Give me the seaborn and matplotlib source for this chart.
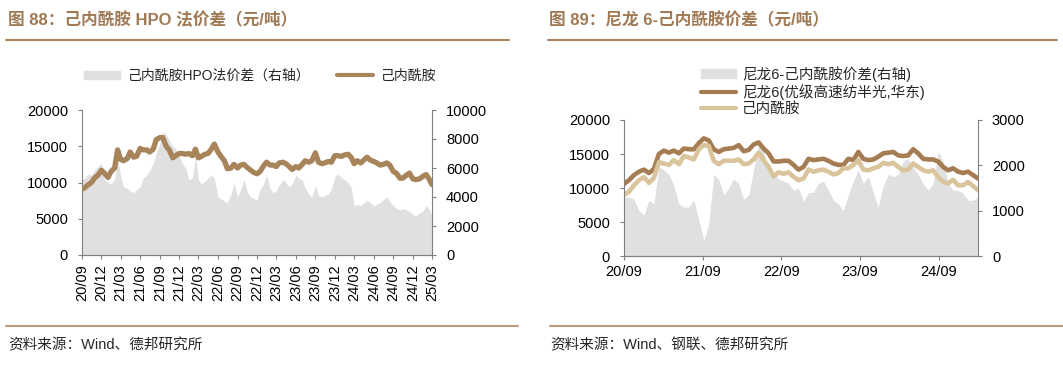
import numpy as np
import pandas as pd
import matplotlib
matplotlib.use("Agg")
import matplotlib.pyplot as plt
import matplotlib.dates as mdates
from matplotlib.lines import Line2D
from matplotlib.patches import Patch
import seaborn as sns

# ---- data: figure 88 (semi-monthly, 2020-09 .. 2025-03)
dates88 = pd.date_range("2020-09-01", periods=109, freq="SMS")
caprolactam88 = [
    9100, 9300, 9700, 10000, 10700, 11000, 11700, 11300, 10700, 11500,
    12000, 14500, 13200, 13000, 13300, 14200, 13500, 13600, 14700, 14500,
    14500, 14200, 14600, 15900, 16200, 16200, 15000, 14500, 13400, 13700,
    14000, 14000, 13900, 14000, 13700, 14600, 13400, 13600, 13900, 14000,
    14600, 15300, 14200, 13600, 13000, 11900, 12000, 12500, 12000, 12400,
    12500, 12100, 11700, 11400, 11200, 11500, 12300, 12800, 12400, 12400,
    12200, 12700, 12800, 12600, 12200, 11800, 12200, 12000, 12500, 13000,
    12800, 13000, 14100, 12800, 12600, 12700, 12900, 12800, 13700, 13700,
    13600, 13800, 13900, 13500, 12600, 13000, 12700, 13100, 13500, 13100,
    12900, 12700, 12400, 12500, 12700, 12400, 11500, 11300, 10600, 10600,
    11000, 11300, 10500, 10400, 10500, 10800, 11100, 10500, 9700,
]
hpo_spread88 = [
    5200, 5300, 5600, 5500, 5900, 6100, 6300, 5200, 5000, 4900,
    5200, 6600, 5500, 4700, 4600, 4400, 4300, 4500, 4700, 5300,
    5500, 5800, 6300, 7000, 7700, 8500, 8300, 7900, 7500, 7300,
    6900, 6300, 6000, 5200, 5300, 6900, 5200, 4900, 5100, 5300,
    5500, 5300, 4000, 3900, 3700, 3600, 4200, 5000, 4000, 4500,
    5200, 4400, 4000, 3900, 3800, 4500, 4900, 5500, 4600, 4300,
    4400, 4800, 5200, 5000, 4700, 4900, 5500, 5300, 5200, 4600,
    4200, 4000, 4800, 4100, 4000, 4100, 4200, 4500, 5400, 5600,
    5300, 5200, 5000, 4700, 3400, 3500, 3400, 3600, 3800, 3600,
    3400, 3500, 3600, 3800, 4000, 3700, 3400, 3200, 3100, 3200,
    3100, 3000, 2800, 2700, 2900, 3000, 3400, 3200, 2700,
]

# ---- data: figure 89
dates89 = pd.date_range("2020-09-01", "2025-03-01", periods=72)
nylon6 = [
    10600, 11150, 11900, 12400, 12700, 12200, 12800, 15000, 15500, 15200,
    15500, 15100, 15800, 15700, 15700, 16600, 17300, 17000, 15700, 15300,
    15700, 15800, 15900, 16300, 15400, 15600, 16400, 16700, 15800, 15100,
    13900, 13900, 14000, 14000, 13400, 12700, 13100, 14300, 14100, 14200,
    14300, 14000, 13600, 13400, 13400, 14300, 14100, 15300, 14300, 14100,
    14200, 14600, 15100, 15200, 15300, 14800, 14700, 14800, 15700, 15100,
    14300, 14200, 14200, 13900, 13100, 12600, 12900, 12400, 12200, 12400,
    11900, 11400,
]
caprolactam89 = [
    9000, 9450, 10400, 11150, 11600, 10750, 11500, 13800, 13600, 13400,
    14100, 13500, 14700, 14500, 14200, 15700, 16300, 16200, 14000, 13500,
    14000, 14000, 14000, 14200, 13500, 13600, 14200, 15200, 14100, 13100,
    11700, 12300, 12100, 12300, 11650, 11150, 11400, 12700, 12400, 12600,
    12700, 12400, 12000, 12200, 12900, 12900, 13400, 14100, 12700, 12600,
    12900, 13100, 13700, 13500, 13700, 13100, 12600, 12700, 13600, 13100,
    12600, 12400, 12600, 11600, 10900, 10700, 11200, 10400, 10400, 10900,
    10300, 9700,
]
spread89 = [
    1300, 1300, 1250, 1000, 900, 1230, 1150, 1970, 1900, 1800,
    1550, 1150, 1080, 1080, 1230, 800, 350, 700, 1800, 1700,
    1350, 1500, 1700, 1600, 1250, 1350, 1900, 2500, 2300, 1900,
    1850, 1700, 1650, 1600, 1450, 1500, 1200, 1400, 1400, 1600,
    1650, 1450, 1230, 1150, 1000, 1350, 1650, 1900, 1600, 1750,
    1400, 1080, 1550, 1800, 1750, 1800, 2100, 2150, 1950, 1800,
    1600, 1450, 1600, 2300, 2100, 1600, 1450, 1450, 1380, 1230,
    1230, 1300,
]

BROWN = "#A8845A"
DARK = "#A67C52"
LIGHT = "#D9C49C"
GRAY = "#E0E0E0"
SPINE = "#808080"
TITLE = "#A07A55"

sns.set_style("ticks")
plt.rcParams["font.family"] = ["Liberation Sans", "Noto Sans CJK SC", "DejaVu Sans"]
plt.rcParams["axes.unicode_minus"] = False

fig = plt.figure(figsize=(10.63, 3.66), dpi=100)
W, H = 1063, 366


def fx(px):
    return px / W


def fy(py):
    return 1 - py / H


def style_axes(ax, ax2):
    for a in (ax, ax2):
        for s in ("left", "right", "bottom"):
            a.spines[s].set_color(SPINE)
            a.spines[s].set_linewidth(0.8)
        a.spines["top"].set_visible(False)
        a.tick_params(colors=SPINE, labelcolor="black", labelsize=10.5, length=3, width=0.8)
        a.tick_params(axis="y", pad=7)
    ax.spines["right"].set_visible(False)
    ax2.spines["left"].set_visible(False)


# ---------------- figure 88 ----------------
ax1 = fig.add_axes([fx(82), fy(255), fx(350), 145 / H])
ax1r = ax1.twinx()
ax1r.fill_between(dates88, hpo_spread88, color=GRAY, lw=0, zorder=1)
df88 = pd.DataFrame({"date": dates88, "val": caprolactam88})
sns.lineplot(data=df88, x="date", y="val", ax=ax1, color=BROWN, lw=3.8, zorder=3)
ax1.set_zorder(ax1r.get_zorder() + 1)
ax1.patch.set_visible(False)
ax1.set_ylim(0, 20000)
ax1r.set_ylim(0, 10000)
ax1.set_yticks(range(0, 20001, 5000))
ax1r.set_yticks(range(0, 10001, 2000))
ax1.set_xlim(pd.Timestamp("2020-09-01"), pd.Timestamp("2025-03-01"))
ax1.xaxis.set_major_locator(mdates.MonthLocator(bymonth=[3, 6, 9, 12]))
ax1.xaxis.set_major_formatter(mdates.DateFormatter("%y/%m"))
ax1.tick_params(axis="x", rotation=90)
ax1.set_xlabel("")
ax1.set_ylabel("")
ax1r.set_ylabel("")
style_axes(ax1, ax1r)

fig.legend(
    handles=[Patch(color=GRAY, label="己内酰胺HPO法价差（右轴）"),
             Line2D([], [], color=BROWN, lw=3, label="己内酰胺")],
    loc="center left", bbox_to_anchor=(fx(71), fy(76)), ncol=2, frameon=False,
    fontsize=10, handlelength=2.6, handleheight=0.55, columnspacing=2.0, handletextpad=0.5,
)

# ---------------- figure 89 ----------------
ax2 = fig.add_axes([fx(624), fy(256), fx(354), 136 / H])
ax2r = ax2.twinx()
ax2r.fill_between(dates89, spread89, color=GRAY, lw=0, zorder=1)
df89 = pd.DataFrame({"date": list(dates89) * 2,
                     "val": nylon6 + caprolactam89,
                     "series": ["n6"] * len(nylon6) + ["cpl"] * len(caprolactam89)})
sns.lineplot(data=df89, x="date", y="val", hue="series", palette={"n6": DARK, "cpl": LIGHT},
             ax=ax2, lw=3.3, legend=False)
ax2.set_zorder(ax2r.get_zorder() + 1)
ax2.patch.set_visible(False)
ax2.set_ylim(0, 20000)
ax2r.set_ylim(0, 3000)
ax2.set_yticks(range(0, 20001, 5000))
ax2r.set_yticks(range(0, 3001, 1000))
ax2.set_xlim(pd.Timestamp("2020-09-01"), pd.Timestamp("2025-03-01"))
ax2.xaxis.set_major_locator(mdates.MonthLocator(bymonth=[9]))
ax2.xaxis.set_major_formatter(mdates.DateFormatter("%y/%m"))
ax2.set_xlabel("")
ax2.set_ylabel("")
ax2r.set_ylabel("")
style_axes(ax2, ax2r)

fig.legend(
    handles=[Patch(color=GRAY, label="尼龙6-己内酰胺价差(右轴)"),
             Line2D([], [], color=DARK, lw=3, label="尼龙6(优级高速纺半光,华东)"),
             Line2D([], [], color=LIGHT, lw=3, label="己内酰胺")],
    loc="upper left", bbox_to_anchor=(fx(688), fy(53)), ncol=1, frameon=False,
    fontsize=10.5, handlelength=2.4, handleheight=0.55, labelspacing=0.15, handletextpad=0.4,
)

# ---------------- titles, rules, sources ----------------
fig.text(fx(8), fy(20), "图 88：己内酰胺 HPO 法价差（元/吨）", color=TITLE,
         fontsize=12, fontweight="bold", va="center", ha="left")
fig.text(fx(549), fy(20), "图 89：尼龙 6-己内酰胺价差（元/吨）", color=TITLE,
         fontsize=12, fontweight="bold", va="center", ha="left")
for x0, x1 in ((6, 509), (548, 1057)):
    fig.add_artist(Line2D([fx(x0), fx(x1)], [fy(40), fy(40)], color=BROWN, lw=1.5))
for x0, x1 in ((6, 518), (550, 1063)):
    fig.add_artist(Line2D([fx(x0), fx(x1)], [fy(326), fy(326)], color=BROWN, lw=1.5, alpha=0.8))
fig.text(fx(8), fy(345), "资料来源：Wind、德邦研究所", fontsize=10.5, va="center", ha="left")
fig.text(fx(550), fy(345), "资料来源：Wind、钢联、德邦研究所", fontsize=10.5, va="center", ha="left")

fig.savefig("out.png", dpi=100)
